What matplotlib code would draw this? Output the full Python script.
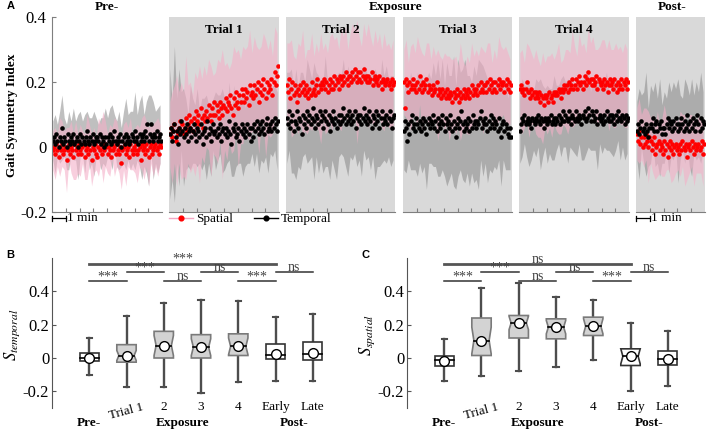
import numpy as np
import matplotlib
matplotlib.use('Agg')
import matplotlib.pyplot as plt
from matplotlib.lines import Line2D
from matplotlib.patches import Polygon

plt.rcParams['font.family'] = 'Liberation Serif'
plt.rcParams['mathtext.fontset'] = 'stix'
plt.rcParams['axes.unicode_minus'] = False

# ---------------- Panel A data (gait symmetry index per stride) ----------------
pre_spatial = [
    -0.01, 0.00, -0.02, 0.01, -0.01, -0.03, 0.00, -0.01,
    0.01, -0.02, -0.01, 0.00, -0.04, -0.01, 0.01, -0.02,
    0.00, -0.01, -0.03, 0.01, -0.01, 0.00, -0.02, 0.01,
    -0.01, -0.02, 0.00, 0.01, -0.03, -0.01, 0.00, -0.02,
    0.01, -0.01, -0.04, 0.00, -0.01, 0.01, -0.02, -0.03,
    0.00, -0.01, 0.01, -0.02, 0.00, -0.01, 0.01, 0.00,
    -0.02, 0.00, -0.01, -0.03, 0.01, -0.01, 0.00, -0.02,
    0.01, -0.01, -0.02, 0.00, -0.05, -0.01, 0.00, 0.01,
    -0.02, -0.01, 0.00, -0.03, 0.01, -0.01, -0.02, 0.00,
    -0.01, 0.01, -0.02, -0.01, 0.00, -0.04, 0.01, -0.01,
    0.00, -0.02, 0.01, -0.01, -0.03, 0.00, 0.01, -0.02,
    -0.01, 0.00, 0.01, -0.01, 0.00, -0.02, 0.01, 0.00]
pre_temporal = [
    0.02, 0.03, 0.01, 0.04, 0.02, 0.00, 0.03, 0.02,
    0.06, 0.01, 0.03, 0.02, 0.00, 0.04, 0.02, 0.01,
    0.03, 0.02, 0.04, 0.01, 0.02, 0.03, 0.00, 0.02,
    0.04, 0.01, 0.03, 0.02, 0.01, 0.03, 0.05, 0.02,
    0.01, 0.03, 0.02, 0.04, 0.01, 0.02, 0.03, 0.03,
    0.02, 0.04, 0.01, 0.03, 0.02, 0.00, 0.03, 0.01,
    0.03, 0.02, 0.04, 0.01, 0.03, 0.02, 0.05, 0.02,
    0.01, 0.03, 0.02, 0.04, 0.00, 0.02, 0.03, 0.01,
    0.04, 0.02, 0.03, 0.01, 0.02, 0.04, 0.03, 0.02,
    0.05, 0.02, 0.03, 0.01, 0.04, 0.02, 0.03, 0.04,
    0.02, 0.05, 0.03, 0.07, 0.02, 0.04, 0.07, 0.03,
    0.02, 0.04, 0.03, 0.05, 0.02, 0.03, 0.04, 0.02]
pre_spatial_sd = [
    0.06, 0.08, 0.05, 0.09, 0.07, 0.06, 0.10, 0.05,
    0.08, 0.07, 0.09, 0.06, 0.08, 0.05, 0.07, 0.10,
    0.06, 0.08, 0.07, 0.05, 0.09, 0.06, 0.11, 0.07,
    0.06, 0.08, 0.05, 0.09, 0.07, 0.06, 0.08, 0.07,
    0.10, 0.06, 0.08, 0.05, 0.07, 0.09, 0.06, 0.08,
    0.10, 0.07, 0.09, 0.06, 0.08, 0.07, 0.09, 0.06]
pre_temporal_sd = [
    0.06, 0.09, 0.05, 0.08, 0.10, 0.06, 0.07, 0.09,
    0.05, 0.08, 0.06, 0.10, 0.07, 0.05, 0.09, 0.06,
    0.08, 0.07, 0.10, 0.06, 0.05, 0.08, 0.07, 0.09,
    0.06, 0.08, 0.10, 0.05, 0.07, 0.09, 0.06, 0.08,
    0.11, 0.07, 0.09, 0.08, 0.12, 0.07, 0.10, 0.13,
    0.08, 0.11, 0.14, 0.09, 0.12, 0.08, 0.10, 0.09]

t1_spatial = [
    0.04, 0.06, 0.03, 0.05, 0.07, 0.02, 0.05, 0.04,
    0.06, 0.08, 0.05, 0.07, 0.04, 0.06, 0.09, 0.05,
    0.07, 0.10, 0.06, 0.08, 0.05, 0.09, 0.07, 0.11,
    0.08, 0.10, 0.07, 0.12, 0.09, 0.06, 0.10, 0.08,
    0.11, 0.09, 0.13, 0.10, 0.08, 0.12, 0.10, 0.14,
    0.10, 0.13, 0.11, 0.09, 0.14, 0.12, 0.10, 0.13,
    0.12, 0.15, 0.11, 0.14, 0.13, 0.16, 0.12, 0.10,
    0.15, 0.13, 0.17, 0.14, 0.12, 0.16, 0.14, 0.18,
    0.16, 0.14, 0.18, 0.15, 0.17, 0.13, 0.19, 0.16,
    0.17, 0.15, 0.19, 0.16, 0.18, 0.20, 0.14, 0.17,
    0.19, 0.16, 0.21, 0.18, 0.15, 0.20, 0.17, 0.19,
    0.18, 0.21, 0.16, 0.20, 0.23, 0.19, 0.22, 0.25]
t1_temporal = [
    0.04, 0.06, 0.02, 0.05, 0.07, 0.03, 0.05, 0.01,
    0.06, 0.04, 0.08, 0.05, 0.03, 0.06, 0.04, 0.07,
    0.02, 0.05, 0.06, 0.03, 0.05, 0.07, 0.04, 0.02,
    0.06, 0.05, 0.03, 0.07, 0.04, 0.01, 0.05, 0.06,
    0.03, 0.08, 0.04, 0.06, 0.02, 0.05, 0.07, 0.04,
    0.05, 0.03, 0.06, 0.04, 0.07, 0.02, 0.05, 0.06,
    0.04, 0.06, 0.03, 0.05, 0.08, 0.04, 0.01, 0.06,
    0.05, 0.07, 0.03, 0.04, 0.06, 0.02, 0.05, 0.07,
    0.04, 0.06, 0.03, 0.05, 0.07, 0.04, 0.06, 0.02,
    0.06, 0.03, 0.07, 0.05, 0.08, 0.06, 0.04, 0.07,
    0.05, 0.08, 0.06, 0.04, 0.07, 0.09, 0.05, 0.06,
    0.07, 0.05, 0.08, 0.06, 0.09, 0.07, 0.05, 0.08]
t1_spatial_sd = [
    0.10, 0.14, 0.12, 0.17, 0.11, 0.15, 0.13, 0.19,
    0.12, 0.14, 0.11, 0.16, 0.13, 0.18, 0.12, 0.15,
    0.11, 0.14, 0.17, 0.12, 0.13, 0.16, 0.12, 0.20,
    0.13, 0.15, 0.11, 0.14, 0.16, 0.12, 0.18, 0.13,
    0.15, 0.12, 0.14, 0.17, 0.12, 0.15, 0.13, 0.16,
    0.12, 0.14, 0.18, 0.13, 0.15, 0.12, 0.14, 0.13]
t1_temporal_sd = [
    0.20, 0.12, 0.24, 0.10, 0.18, 0.09, 0.15, 0.11,
    0.08, 0.13, 0.10, 0.09, 0.12, 0.08, 0.11, 0.10,
    0.13, 0.09, 0.11, 0.08, 0.12, 0.10, 0.09, 0.13,
    0.11, 0.08, 0.12, 0.10, 0.14, 0.09, 0.11, 0.10,
    0.13, 0.09, 0.12, 0.11, 0.08, 0.13, 0.10, 0.12,
    0.09, 0.11, 0.10, 0.13, 0.09, 0.11, 0.10, 0.12]

t2_spatial = [
    0.19, 0.17, 0.21, 0.15, 0.18, 0.20, 0.16, 0.19,
    0.17, 0.14, 0.18, 0.16, 0.19, 0.17, 0.20, 0.18,
    0.16, 0.19, 0.17, 0.15, 0.18, 0.16, 0.20, 0.17,
    0.18, 0.16, 0.19, 0.21, 0.17, 0.19, 0.18, 0.20,
    0.19, 0.21, 0.18, 0.20, 0.17, 0.19, 0.21, 0.18,
    0.20, 0.18, 0.22, 0.19, 0.21, 0.20, 0.18, 0.22,
    0.21, 0.19, 0.22, 0.20, 0.23, 0.21, 0.19, 0.22,
    0.22, 0.20, 0.23, 0.21, 0.24, 0.22, 0.20, 0.23,
    0.21, 0.23, 0.20, 0.22, 0.24, 0.21, 0.22, 0.20,
    0.22, 0.20, 0.21, 0.23, 0.19, 0.21, 0.22, 0.20,
    0.21, 0.19, 0.22, 0.20, 0.18, 0.21, 0.20, 0.19,
    0.20, 0.21, 0.19, 0.20, 0.18, 0.21, 0.19, 0.20]
t2_temporal = [
    0.09, 0.07, 0.11, 0.06, 0.08, 0.10, 0.05, 0.08,
    0.07, 0.11, 0.06, 0.09, 0.08, 0.04, 0.10, 0.07,
    0.09, 0.06, 0.11, 0.08, 0.10, 0.07, 0.09, 0.12,
    0.08, 0.06, 0.10, 0.09, 0.07, 0.11, 0.08, 0.10,
    0.06, 0.09, 0.11, 0.08, 0.07, 0.10, 0.05, 0.09,
    0.08, 0.11, 0.07, 0.09, 0.06, 0.08, 0.10, 0.07,
    0.10, 0.08, 0.12, 0.09, 0.07, 0.10, 0.08, 0.11,
    0.09, 0.07, 0.10, 0.08, 0.11, 0.06, 0.09, 0.10,
    0.08, 0.10, 0.07, 0.09, 0.12, 0.08, 0.10, 0.07,
    0.09, 0.11, 0.08, 0.06, 0.10, 0.09, 0.07, 0.11,
    0.08, 0.10, 0.06, 0.09, 0.11, 0.07, 0.09, 0.08,
    0.10, 0.07, 0.09, 0.11, 0.08, 0.06, 0.09, 0.10]
t2_spatial_sd = [
    0.13, 0.11, 0.15, 0.12, 0.10, 0.14, 0.12, 0.16,
    0.11, 0.13, 0.12, 0.15, 0.10, 0.13, 0.12, 0.17,
    0.11, 0.14, 0.12, 0.13, 0.15, 0.11, 0.13, 0.12,
    0.16, 0.12, 0.14, 0.11, 0.13, 0.15, 0.12, 0.19,
    0.13, 0.11, 0.14, 0.12, 0.16, 0.13, 0.12, 0.14,
    0.11, 0.13, 0.12, 0.15, 0.11, 0.13, 0.12, 0.14]
t2_temporal_sd = [
    0.14, 0.12, 0.16, 0.13, 0.17, 0.12, 0.15, 0.13,
    0.11, 0.16, 0.14, 0.12, 0.18, 0.13, 0.15, 0.12,
    0.14, 0.17, 0.13, 0.15, 0.12, 0.14, 0.16, 0.13,
    0.12, 0.15, 0.13, 0.17, 0.12, 0.14, 0.13, 0.15,
    0.12, 0.16, 0.13, 0.14, 0.12, 0.15, 0.13, 0.17,
    0.14, 0.12, 0.16, 0.13, 0.15, 0.12, 0.14, 0.13]

t3_spatial = [
    0.20, 0.12, 0.21, 0.19, 0.17, 0.20, 0.18, 0.19,
    0.21, 0.18, 0.19, 0.17, 0.20, 0.18, 0.22, 0.19,
    0.17, 0.20, 0.18, 0.19, 0.21, 0.17, 0.19, 0.18,
    0.18, 0.16, 0.19, 0.17, 0.18, 0.20, 0.16, 0.18,
    0.17, 0.15, 0.18, 0.16, 0.17, 0.15, 0.18, 0.16,
    0.15, 0.17, 0.16, 0.14, 0.17, 0.15, 0.16, 0.18,
    0.16, 0.14, 0.17, 0.15, 0.16, 0.18, 0.15, 0.17,
    0.16, 0.18, 0.15, 0.17, 0.19, 0.16, 0.18, 0.17,
    0.18, 0.16, 0.19, 0.17, 0.20, 0.18, 0.17, 0.19,
    0.19, 0.17, 0.20, 0.18, 0.21, 0.19, 0.17, 0.20,
    0.18, 0.20, 0.17, 0.19, 0.21, 0.18, 0.20, 0.19,
    0.20, 0.17, 0.19, 0.21, 0.18, 0.20, 0.17, 0.19]
t3_temporal = [
    0.05, 0.08, 0.06, 0.02, 0.07, 0.04, 0.08, 0.10,
    0.06, 0.07, 0.05, 0.09, 0.07, 0.06, 0.08, 0.05,
    0.07, 0.09, 0.06, 0.08, 0.04, 0.07, 0.09, 0.06,
    0.08, 0.07, 0.10, 0.06, 0.08, 0.05, 0.09, 0.07,
    0.06, 0.08, 0.10, 0.07, 0.05, 0.09, 0.07, 0.08,
    0.06, 0.10, 0.07, 0.05, 0.08, 0.06, 0.03, 0.07,
    0.09, 0.06, 0.08, 0.11, 0.07, 0.05, 0.08, 0.06,
    0.07, 0.09, 0.05, 0.08, 0.06, 0.10, 0.07, 0.08,
    0.06, 0.08, 0.07, 0.09, 0.11, 0.06, 0.08, 0.07,
    0.09, 0.07, 0.05, 0.08, 0.06, 0.10, 0.07, 0.09,
    0.06, 0.08, 0.07, 0.05, 0.09, 0.06, 0.03, 0.07,
    0.08, 0.05, 0.07, 0.06, 0.04, 0.03, 0.06, 0.03]
t3_spatial_sd = [
    0.10, 0.12, 0.09, 0.13, 0.11, 0.10, 0.14, 0.09,
    0.12, 0.10, 0.11, 0.13, 0.09, 0.12, 0.10, 0.14,
    0.11, 0.09, 0.12, 0.10, 0.13, 0.11, 0.10, 0.12,
    0.09, 0.15, 0.11, 0.10, 0.12, 0.11, 0.13, 0.10,
    0.12, 0.09, 0.11, 0.13, 0.10, 0.12, 0.11, 0.09,
    0.12, 0.10, 0.13, 0.11, 0.10, 0.12, 0.11, 0.10]
t3_temporal_sd = [
    0.12, 0.14, 0.11, 0.15, 0.13, 0.12, 0.16, 0.13,
    0.15, 0.12, 0.17, 0.14, 0.13, 0.16, 0.14, 0.18,
    0.15, 0.17, 0.14, 0.19, 0.16, 0.15, 0.20, 0.16,
    0.18, 0.15, 0.17, 0.19, 0.15, 0.17, 0.14, 0.18,
    0.16, 0.20, 0.15, 0.17, 0.14, 0.16, 0.13, 0.15,
    0.12, 0.14, 0.13, 0.15, 0.12, 0.14, 0.11, 0.13]

t4_spatial = [
    0.18, 0.19, 0.17, 0.18, 0.16, 0.18, 0.20, 0.17,
    0.17, 0.15, 0.18, 0.16, 0.17, 0.15, 0.17, 0.16,
    0.15, 0.17, 0.14, 0.16, 0.15, 0.13, 0.16, 0.15,
    0.16, 0.14, 0.17, 0.15, 0.16, 0.14, 0.17, 0.16,
    0.17, 0.16, 0.18, 0.17, 0.15, 0.18, 0.17, 0.19,
    0.18, 0.19, 0.17, 0.20, 0.18, 0.19, 0.21, 0.18,
    0.19, 0.21, 0.18, 0.20, 0.22, 0.19, 0.20, 0.18,
    0.20, 0.22, 0.19, 0.21, 0.23, 0.20, 0.21, 0.19,
    0.21, 0.19, 0.20, 0.22, 0.18, 0.21, 0.20, 0.19,
    0.20, 0.18, 0.21, 0.19, 0.20, 0.17, 0.19, 0.21,
    0.19, 0.20, 0.18, 0.21, 0.19, 0.17, 0.20, 0.18,
    0.19, 0.21, 0.18, 0.20, 0.19, 0.21, 0.18, 0.20]
t4_temporal = [
    0.05, 0.07, 0.09, 0.08, 0.10, 0.07, 0.08, 0.09,
    0.07, 0.08, 0.06, 0.09, 0.08, 0.07, 0.09, 0.08,
    0.10, 0.08, 0.07, 0.09, 0.08, 0.06, 0.09, 0.08,
    0.07, 0.09, 0.08, 0.10, 0.07, 0.08, 0.09, 0.07,
    0.09, 0.08, 0.10, 0.07, 0.09, 0.08, 0.11, 0.08,
    0.10, 0.09, 0.08, 0.11, 0.09, 0.07, 0.10, 0.09,
    0.08, 0.11, 0.09, 0.08, 0.10, 0.09, 0.07, 0.10,
    0.09, 0.11, 0.08, 0.09, 0.12, 0.10, 0.08, 0.11,
    0.10, 0.08, 0.09, 0.11, 0.07, 0.09, 0.10, 0.08,
    0.09, 0.07, 0.10, 0.08, 0.11, 0.09, 0.08, 0.10,
    0.08, 0.10, 0.09, 0.07, 0.10, 0.08, 0.11, 0.09,
    0.09, 0.08, 0.10, 0.09, 0.07, 0.10, 0.08, 0.09]
t4_spatial_sd = [
    0.11, 0.13, 0.10, 0.12, 0.14, 0.11, 0.10, 0.13,
    0.12, 0.11, 0.14, 0.10, 0.12, 0.11, 0.13, 0.10,
    0.12, 0.14, 0.11, 0.10, 0.12, 0.13, 0.11, 0.15,
    0.12, 0.10, 0.13, 0.11, 0.12, 0.10, 0.14, 0.11,
    0.13, 0.10, 0.12, 0.11, 0.13, 0.12, 0.10, 0.14,
    0.11, 0.12, 0.13, 0.10, 0.12, 0.11, 0.13, 0.12]
t4_temporal_sd = [
    0.10, 0.12, 0.09, 0.11, 0.13, 0.10, 0.09, 0.12,
    0.10, 0.14, 0.11, 0.09, 0.12, 0.10, 0.11, 0.13,
    0.10, 0.09, 0.12, 0.11, 0.10, 0.13, 0.09, 0.11,
    0.10, 0.12, 0.09, 0.11, 0.13, 0.10, 0.12, 0.09,
    0.11, 0.10, 0.14, 0.09, 0.11, 0.10, 0.12, 0.09,
    0.10, 0.12, 0.11, 0.09, 0.13, 0.10, 0.11, 0.10]

post_spatial = [
    0.04, 0.02, 0.05, 0.01, 0.03, 0.00,
    0.03, 0.01, 0.04, 0.02, 0.00, 0.03,
    0.02, -0.01, 0.01, 0.03, -0.02, 0.00,
    0.01, 0.02, -0.01, 0.01, 0.00, -0.02,
    0.02, -0.01, 0.01, -0.03, 0.00, 0.02,
    -0.01, 0.01, -0.02, 0.00, 0.01, -0.01,
    0.00, -0.02, 0.01, -0.01, 0.02, 0.00,
    -0.01, 0.01, -0.03, 0.00, 0.01, -0.01,
    0.02, 0.00, -0.02, 0.01, -0.01, 0.00,
    0.01, -0.01, 0.00, 0.02, -0.02, 0.01]
post_temporal = [
    0.05, 0.07, 0.04, 0.06, 0.08, 0.05,
    0.06, 0.04, 0.07, 0.05, 0.03, 0.06,
    0.07, 0.06, 0.09, 0.05, 0.07, 0.08,
    0.05, 0.07, 0.06, 0.08, 0.04, 0.06,
    0.06, 0.04, 0.07, 0.09, 0.06, 0.08,
    0.07, 0.05, 0.08, 0.06, 0.09, 0.07,
    0.05, 0.07, 0.06, 0.09, 0.07, 0.05,
    0.08, 0.06, 0.10, 0.07, 0.05, 0.08,
    0.06, 0.09, 0.07, 0.05, 0.08, 0.10,
    0.07, 0.05, 0.09, 0.06, 0.08, 0.07]
post_spatial_sd = [
    0.08, 0.10, 0.07, 0.09, 0.08, 0.11,
    0.07, 0.09, 0.08, 0.10, 0.07, 0.09,
    0.11, 0.08, 0.07, 0.10, 0.08, 0.09,
    0.07, 0.10, 0.08, 0.11, 0.07, 0.09,
    0.08, 0.10, 0.07, 0.09, 0.08, 0.10]
post_temporal_sd = [
    0.09, 0.14, 0.08, 0.11, 0.16, 0.09,
    0.12, 0.08, 0.13, 0.10, 0.15, 0.09,
    0.11, 0.08, 0.14, 0.10, 0.12, 0.09,
    0.16, 0.10, 0.08, 0.13, 0.09, 0.11,
    0.15, 0.09, 0.12, 0.10, 0.14, 0.09]

segment_titles = ['', 'Trial 1', 'Trial 2', 'Trial 3', 'Trial 4', '']
segment_minutes = [8, 8, 8, 8, 8, 5]
a_yticks = [-0.2, 0, 0.2, 0.4]
a_yticklabels = ['-0.2', '0', '0.2', '0.4']

# ---------------- Panels B / C data (box plot summaries) ----------------
box_labels = ['', 'Trial 1', '2', '3', '4', 'Early', 'Late']
group_labels = ['Pre-', 'Exposure', 'Post-']
box_exposure = [False, True, True, True, True, False, False]

b_whislo = [-0.10, -0.175, -0.175, -0.21, -0.145, -0.14, -0.135]
b_q1 = [-0.02, -0.025, 0.00, 0.00, 0.015, -0.005, -0.01]
b_med = [0.00, 0.015, 0.075, 0.065, 0.07, 0.02, 0.025]
b_q3 = [0.03, 0.08, 0.16, 0.14, 0.145, 0.085, 0.095]
b_whishi = [0.12, 0.255, 0.33, 0.35, 0.34, 0.245, 0.265]
b_mean = [0.00, 0.015, 0.075, 0.065, 0.07, 0.025, 0.028]
b_notch = [0.0, 0.03, 0.06, 0.05, 0.05, 0.0, 0.0]

c_whislo = [-0.14, -0.11, -0.075, -0.055, -0.01, -0.195, -0.165]
c_q1 = [-0.045, 0.015, 0.12, 0.115, 0.135, -0.045, -0.04]
c_med = [-0.01, 0.105, 0.21, 0.185, 0.19, 0.01, -0.005]
c_q3 = [0.015, 0.24, 0.255, 0.235, 0.245, 0.055, 0.04]
c_whishi = [0.115, 0.42, 0.45, 0.365, 0.35, 0.21, 0.16]
c_mean = [-0.015, 0.105, 0.21, 0.185, 0.19, 0.01, -0.005]
c_notch = [0.0, 0.08, 0.04, 0.04, 0.045, 0.045, 0.0]

sig_pairs = [(1, 6), (2, 3), (4, 5), (6, 7), (1, 2), (3, 4), (5, 6)]
b_sig = ['***', '***', 'ns', 'ns', '***', 'ns', '***']
c_sig = ['ns', '***', 'ns', 'ns', '***', 'ns', '***']
bc_yticks = [-0.2, 0, 0.2, 0.4]
bc_yticklabels = ['-0.2', '0', '0.2', '0.4']

# ---------------- Figure ----------------
W, H = 708, 430
fig = plt.figure(figsize=(W / 100, H / 100), dpi=100)


def ax_px(l, t, r, b):
    return fig.add_axes([l / W, 1 - b / H, (r - l) / W, (b - t) / H])


SP_BAND = '#f4b0c8'
TM_BAND = '#808080'
BG = '#d9d9d9'
SPINE = '#7f7f7f'

segments = [
    (pre_spatial, pre_temporal, pre_spatial_sd, pre_temporal_sd),
    (t1_spatial, t1_temporal, t1_spatial_sd, t1_temporal_sd),
    (t2_spatial, t2_temporal, t2_spatial_sd, t2_temporal_sd),
    (t3_spatial, t3_temporal, t3_spatial_sd, t3_temporal_sd),
    (t4_spatial, t4_temporal, t4_spatial_sd, t4_temporal_sd),
    (post_spatial, post_temporal, post_spatial_sd, post_temporal_sd),
]
seg_px = [(52, 162), (169, 279), (286, 395), (403, 512), (519, 629), (636, 705)]

a_axes = []
for k, ((sp, tm, spsd, tmsd), (l, r)) in enumerate(zip(segments, seg_px)):
    ax = ax_px(l, 17, r, 212)
    a_axes.append(ax)
    dur = segment_minutes[k]
    sp = np.array(sp); tm = np.array(tm); spsd = np.array(spsd); tmsd = np.array(tmsd)
    x = np.linspace(0.06, dur - 0.06, len(sp))
    # the sd values belong to every second stride
    xb, sp_c, tm_c = x[::2], sp[::2], tm[::2]
    ax.set_facecolor('white' if k == 0 else BG)
    ax.fill_between(xb, tm_c - tmsd, tm_c + tmsd, color=TM_BAND, alpha=0.5, lw=0)
    ax.fill_between(xb, sp_c - spsd, sp_c + spsd, color=SP_BAND, alpha=0.6, lw=0)
    ax.plot(x, sp, 'o', color='red', ms=3.3, mec='none')
    ax.plot(x, tm, 'o', color='black', ms=3.3, mec='none')
    ax.set_xlim(0, dur)
    ax.set_ylim(-0.2, 0.4)
    for s in ['top', 'right']:
        ax.spines[s].set_visible(False)
    ax.spines['bottom'].set_color(SPINE)
    ax.set_xticks(np.arange(1, dur))
    ax.tick_params(axis='x', direction='in', length=3, color=SPINE, labelbottom=False)
    if k == 0:
        ax.spines['left'].set_color(SPINE)
        ax.set_yticks(a_yticks)
        ax.set_yticklabels(a_yticklabels, fontsize=12)
        ax.tick_params(axis='y', direction='in', length=3, color=SPINE, pad=4)
    else:
        ax.spines['left'].set_visible(False)
        ax.set_yticks([])
    if segment_titles[k]:
        ax.text(0.5, 1 - 13 / 195, segment_titles[k], transform=ax.transAxes,
                ha='center', va='center', fontsize=9.5, fontweight='bold')

# section titles
fig.text(107 / W, 1 - 7 / H, 'Pre-', ha='center', va='center', fontsize=9.5, fontweight='bold')
fig.text(396 / W, 1 - 7 / H, 'Exposure', ha='center', va='center', fontsize=9.5, fontweight='bold')
fig.text(672 / W, 1 - 7 / H, 'Post-', ha='center', va='center', fontsize=9.5, fontweight='bold')
fig.text(12 / W, 1 - 115 / H, 'Gait Symmetry Index', rotation=90, ha='center', va='center',
         fontsize=9.5, fontweight='bold')

# scale bars
for ax in (a_axes[0], a_axes[5]):
    tr = ax.get_xaxis_transform()
    yb = -0.032
    ax.plot([0, 1], [yb, yb], color='black', lw=0.9, transform=tr, clip_on=False)
    ax.plot([0, 0], [yb - 0.012, yb + 0.012], color='black', lw=0.9, transform=tr, clip_on=False)
    ax.plot([1, 1], [yb - 0.012, yb + 0.012], color='black', lw=0.9, transform=tr, clip_on=False)
    ax.text(1.08, yb, '1 min', transform=tr, ha='left', va='center', fontsize=9.5)

# legend
handles = [Line2D([], [], color='#f2a7c3', lw=1.0, marker='o', mfc='red', mec='red', ms=3.4),
           Line2D([], [], color='black', lw=1.0, marker='o', mfc='black', mec='black', ms=3.4)]
a_axes[1].legend(handles, ['Spatial', 'Temporal'], loc='center left', bbox_to_anchor=(0.0, -0.036),
                 ncol=2, frameon=False, fontsize=9.5, handlelength=1.8, handletextpad=0.25,
                 columnspacing=1.6, borderpad=0, borderaxespad=0)

fig.text(11 / W, 1 - 6 / H, 'A', ha='center', va='center', fontsize=8, fontweight='bold',
         family='Liberation Sans')


# ---------------- Panels B and C ----------------
def box_panel(left_px, whislo, q1, med, q3, whishi, mean, notch, sig, ylab, letter):
    ax = ax_px(left_px, 258, left_px + 298, 408)
    hw = 0.26     # half box width
    ind = 0.055   # notch indent
    cap = 0.07    # half cap width
    for i in range(len(med)):
        p = i + 1
        if box_exposure[i]:
            fc, ec = '#d3d3d3', '#7a7a7a'
        else:
            fc, ec = 'white', '#333333'
        ax.plot([p, p], [whislo[i], q1[i]], color='#4d4d4d', lw=1.7, zorder=1)
        ax.plot([p, p], [q3[i], whishi[i]], color='#4d4d4d', lw=1.7, zorder=1)
        ax.plot([p - cap, p + cap], [whislo[i], whislo[i]], color='#4d4d4d', lw=1.5, zorder=1)
        ax.plot([p - cap, p + cap], [whishi[i], whishi[i]], color='#4d4d4d', lw=1.5, zorder=1)
        if notch[i] > 0:
            lo_n = max(q1[i], med[i] - notch[i])
            hi_n = min(q3[i], med[i] + notch[i])
            verts = [(p - hw, q1[i]), (p + hw, q1[i]), (p + hw, lo_n), (p + hw - ind, med[i]),
                     (p + hw, hi_n), (p + hw, q3[i]), (p - hw, q3[i]), (p - hw, hi_n),
                     (p - hw + ind, med[i]), (p - hw, lo_n)]
            mi = ind
        else:
            verts = [(p - hw, q1[i]), (p + hw, q1[i]), (p + hw, q3[i]), (p - hw, q3[i])]
            mi = 0
        ax.add_patch(Polygon(verts, closed=True, fc=fc, ec=ec, lw=1.2, zorder=2))
        ax.plot([p - hw + mi, p + hw - mi], [med[i], med[i]], color='black', lw=1.2, zorder=3)
        ax.plot([p], [mean[i]], 'o', mfc='white', mec='black', ms=7, mew=1.0, zorder=4)
    ax.set_xlim(0, 8)
    ax.set_ylim(-0.3, 0.6)
    for s in ['top', 'right', 'bottom']:
        ax.spines[s].set_visible(False)
    ax.spines['left'].set_color('#555555')
    ax.set_yticks(bc_yticks)
    ax.set_yticklabels(bc_yticklabels, fontsize=12)
    ax.tick_params(axis='y', direction='in', length=3, color='#555555', pad=2)
    ax.set_xticks(range(1, len(box_labels) + 1))
    ax.set_xticklabels(box_labels, fontsize=9.5)
    ax.get_xticklabels()[1].set_rotation(15)
    ax.tick_params(axis='x', length=0, pad=-5)
    tr = ax.get_xaxis_transform()
    for xg, lab in zip([1, 3.5, 6.5], group_labels):
        ax.text(xg, -0.1, lab, transform=tr, ha='center', va='center', fontsize=9.5, fontweight='bold')
    levels = [0.565, 0.515, 0.515, 0.515, 0.46, 0.46, 0.46]
    for n, ((i, j), lvl, lab) in enumerate(zip(sig_pairs, levels, sig)):
        ax.plot([i, j], [lvl, lvl], color='#555555' if n == 0 else '#333333',
                lw=2.0 if n == 0 else 1.1, clip_on=False)
        ax.text((i + j) / 2, lvl - 0.012, lab, ha='center', va='bottom', fontsize=10, color='#444444')
    fig.text((left_px - 40) / W, 1 - 335 / H, ylab, rotation=90, ha='center', va='center', fontsize=12)
    fig.text((left_px - 42) / W, 1 - 255 / H, letter, ha='center', va='center', fontsize=8,
             fontweight='bold', family='Liberation Sans')
    return ax


box_panel(52, b_whislo, b_q1, b_med, b_q3, b_whishi, b_mean, b_notch, b_sig, r'$S_{temporal}$', 'B')
box_panel(407, c_whislo, c_q1, c_med, c_q3, c_whishi, c_mean, c_notch, c_sig, r'$S_{spatial}$', 'C')

fig.savefig('out.png', dpi=100)
